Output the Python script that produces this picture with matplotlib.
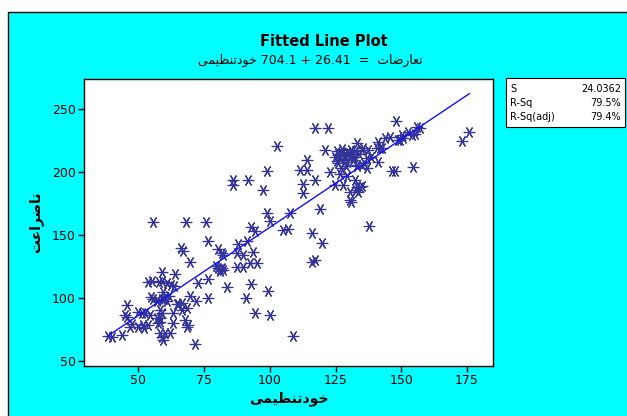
import numpy as np
import matplotlib.pyplot as plt
from matplotlib.patches import Rectangle

# data
x_self = [55.6, 68.0, 75.7, 98.8, 100.1, 92.8, 94.3, 105.1, 107.0, 76.6,
          66.2, 66.8, 88.0, 91.2, 80.1, 81.7, 82.3, 87.4, 89.9, 93.7,
          69.6, 80.4, 81.0, 81.7, 79.5, 87.4, 89.9, 92.4, 95.0, 58.8,
          63.9, 53.7, 55.0, 58.8, 60.7, 63.6, 72.8, 76.6, 83.6, 92.8,
          99.2, 90.9, 76.6, 69.6, 71.9, 59.4, 55.6, 56.9, 58.8, 60.1,
          60.7, 65.2, 66.4, 66.5, 68.3, 45.5, 44.9, 45.5, 49.9, 52.5,
          51.2, 54.4, 58.2, 58.8, 58.2, 56.9, 63.2, 67.7, 68.3, 69.0,
          63.2, 57.5, 58.2, 53.7, 46.8, 49.9, 51.8, 52.0, 58.2, 60.1,
          62.0, 58.8, 59.4, 38.5, 39.8, 43.6, 71.5, 94.3, 100.1, 86.1,
          86.1, 91.8, 97.5, 99.0, 102.8, 57.0, 59.8, 61.5, 81.0, 82.0,
          54.8, 62.5, 64.8, 57.8, 47.5,
          107.7, 119.1, 115.9, 119.7, 137.9, 117.2, 115.9, 108.9, 117.2, 122.3,
          114.0, 111.5, 114.0, 112.7, 112.7, 117.2, 121.0, 148.0, 175.9, 173.0,
          155.9, 155.3, 150.2, 150.8, 145.7, 148.9, 157.2, 154.0, 154.4, 146.4,
          147.6, 141.1, 140.9, 141.9, 141.3, 133.1, 135.6, 137.5, 125.4, 127.4,
          129.3, 135.0, 124.8, 126.7, 128.6, 130.5, 131.8, 136.9, 126.1, 129.3,
          133.1, 135.0, 136.9, 142.6, 149.5, 122.9, 126.7, 129.3, 132.4, 124.8,
          128.0, 133.1, 135.0, 130.5, 133.7, 130.5, 130.8, 132.8, 134.3, 133.1,
          127.5, 130.0, 132.0, 128.5, 126.0, 131.0, 134.0, 129.0, 127.0, 132.5,
          136.0, 125.5, 138.5, 144.0, 152.5]
y_conf = [160.2, 160.2, 160.2, 167.4, 161.5, 156.2, 153.5, 154.1, 154.7, 145.4,
          139.6, 137.6, 143.0, 145.4, 138.8, 136.1, 134.2, 135.6, 134.2, 136.8,
          128.4, 123.7, 121.8, 124.1, 125.5, 124.9, 124.9, 127.6, 127.6, 121.0,
          119.1, 113.0, 113.6, 113.8, 111.7, 109.6, 112.2, 115.2, 108.6, 111.2,
          105.9, 100.3, 100.3, 101.9, 97.7, 105.1, 99.0, 97.9, 99.5, 100.6,
          97.9, 95.3, 95.8, 90.5, 91.9, 94.5, 86.6, 84.7, 89.2, 87.9,
          87.9, 86.6, 90.5, 88.0, 83.9, 83.9, 87.9, 82.6, 77.3, 78.6,
          80.0, 80.0, 81.2, 78.6, 77.3, 77.3, 78.6, 76.0, 72.0, 72.0,
          72.0, 69.3, 67.0, 69.9, 68.8, 70.7, 63.5, 87.9, 86.6, 193.8,
          189.8, 193.8, 185.9, 201.0, 220.8, 98.5, 99.0, 101.5, 123.0, 122.5,
          100.5, 110.5, 95.0, 113.0, 79.5,
          167.8, 170.5, 151.5, 144.0, 157.3, 130.3, 128.9, 69.9, 235.4, 235.4,
          209.7, 201.8, 201.8, 190.6, 183.7, 193.8, 217.7, 240.9, 232.2, 225.0,
          236.2, 230.4, 229.6, 227.0, 228.2, 225.6, 234.9, 229.6, 204.4, 201.2,
          201.2, 224.3, 219.0, 219.0, 208.4, 223.0, 219.0, 217.7, 216.9, 218.5,
          216.3, 217.7, 212.3, 211.1, 213.1, 213.1, 209.7, 211.1, 207.1, 208.4,
          205.7, 205.7, 203.1, 219.0, 225.6, 200.4, 198.3, 197.2, 193.8, 189.8,
          189.8, 188.5, 189.3, 184.5, 184.5, 177.9, 176.6, 185.9, 188.5, 204.9,
          214.5, 215.0, 212.0, 210.5, 214.0, 218.0, 214.5, 205.0, 203.5, 216.5,
          207.5, 209.0, 212.5, 227.5, 232.0]

b0 = 16.2
b1 = 1.40
stats_lbl = ["S", "R-Sq", "R-Sq(adj)"]
stats_val = ["24.0362", "79.5%", "79.4%"]

# persian text, pre-shaped in visual order
xlab = "\uFEF0\uFEE4\uFEF4\uFEC8\uFEE8\uFE97\uFEA9\uFEEE\uFEA7"
ylab = "\uFE96\uFECB\uFE8D\uFEAE\uFEBF\uFE8E\uFE97"
conf = "\uFE95\uFE8E\uFEBF\uFEAD\uFE8E\uFECC\uFE97"
subtitle = xlab + " 704.1 + 26.41  =  " + conf

W, H = 627, 416
fig = plt.figure(figsize=(W / 100, H / 100), dpi=100, facecolor="white")

# cyan background panel
fig.patches.append(Rectangle((8 / W, -0.2), 1.2, (H - 12) / H + 0.2,
                             transform=fig.transFigure, facecolor="#00ffff",
                             edgecolor="black", lw=1.0, zorder=-10))

ax = fig.add_axes([84 / W, (H - 365.5) / H, (493 - 84) / W, (365.5 - 78.5) / H])
ax.set_zorder(1)
ax.set_facecolor("white")
ax.scatter(x_self, y_conf, marker=(6, 2, 90), s=58, color="#33339a",
           linewidths=0.85, zorder=3)
xs = np.array([min(x_self), max(x_self)])
ax.plot(xs, b0 + b1 * xs, color="#1010ff", lw=1.0, zorder=4)

ax.set_xlim(29.3, 184.9)
ax.set_ylim(46.4, 274.5)
ax.set_xticks([50, 75, 100, 125, 150, 175])
ax.set_yticks([50, 100, 150, 200, 250])
ax.tick_params(direction="out", length=4, width=1, labelsize=9, pad=2)
for s in ax.spines.values():
    s.set_linewidth(1.0)

ax.set_xlabel(xlab, fontsize=10, fontweight="bold", labelpad=3)
ax.set_ylabel(ylab, fontsize=10, fontweight="bold", labelpad=6)

fig.text(324 / W, 1 - 41 / H, "Fitted Line Plot", ha="center", va="center",
         fontsize=10.5, fontweight="bold")
fig.text(310 / W, 1 - 60 / H, subtitle, ha="center", va="center", fontsize=9)

# stats box
fig.patches.append(Rectangle((506 / W, 1 - 127 / H), (625 - 506) / W, 49 / H,
                             transform=fig.transFigure, facecolor="white",
                             edgecolor="black", lw=0.8, zorder=2))
for i, (l, v) in enumerate(zip(stats_lbl, stats_val)):
    yy = 1 - (89 + 14 * i) / H
    fig.text(510 / W, yy, l, ha="left", va="center", fontsize=7, zorder=3)
    fig.text(621 / W, yy, v, ha="right", va="center", fontsize=7, zorder=3)

fig.savefig("out.png", dpi=100, facecolor="white")
